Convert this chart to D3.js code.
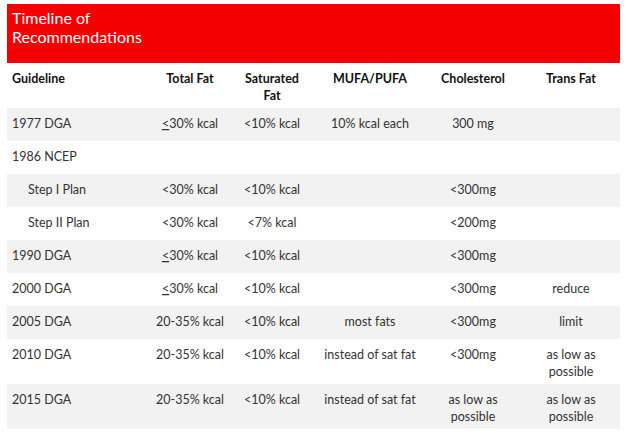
<!DOCTYPE html><html><head><meta charset="utf-8"><script src="https://d3js.org/d3.v7.min.js"></script>
<style>body{margin:0;background:#fff}text{font-family:Lato,"Noto Sans",sans-serif}</style></head><body>
<svg id="c" width="630" height="437"></svg>
<script>
const title=["Timeline of","Recommendations"];
const columns=["Guideline","Total Fat","Saturated Fat","MUFA/PUFA","Cholesterol","Trans Fat"];
const guidelines=["1977 DGA","1986 NCEP","Step I Plan","Step II Plan","1990 DGA","2000 DGA","2005 DGA","2010 DGA","2015 DGA"];
const indent=[0,0,1,1,0,0,0,0,0];
const totalFat=["≤30% kcal","","<30% kcal","<30% kcal","≤30% kcal","≤30% kcal","20-35% kcal","20-35% kcal","20-35% kcal"];
const satFat=["<10% kcal","","<10% kcal","<7% kcal","<10% kcal","<10% kcal","<10% kcal","<10% kcal","<10% kcal"];
const mufa=["10% kcal each","","","","","","most fats","instead of sat fat","instead of sat fat"];
const chol=["300 mg","","<300mg","<200mg","<300mg","<300mg","<300mg","<300mg","as low as|possible"];
const trans=["","","","","","reduce","limit","as low as|possible","as low as|possible"];
const rowH=[1,1,1,1,1,1,1,1.36,1.36];

const svg=d3.select("#c");
const L=7,R=620;
svg.append("rect").attr("x",L).attr("y",4).attr("width",R-L).attr("height",59).attr("fill","#f40000");
svg.selectAll(".tt").data(title).join("text").attr("x",12).attr("y",(d,i)=>24+i*19)
 .attr("fill","#fff").attr("font-size",16).text(d=>d);
const cx=[12,190,272,370,473,571];
// header
columns.forEach((c,i)=>{
  const parts=c==="Saturated Fat"?["Saturated","Fat"]:[c];
  parts.forEach((p,j)=>svg.append("text").attr("x",cx[i]).attr("y",83+j*17)
   .attr("text-anchor",i?"middle":"start").attr("font-weight","bold").attr("font-size",12.5).attr("fill","#111").text(p));
});
const unit=33;
const y0=108;
const tops=[];let acc=y0;
rowH.forEach(h=>{tops.push(acc);acc+=h*unit;});
const y=d3.scaleLinear().domain([0,1]).range([0,unit]);
const cols=[guidelines,totalFat,satFat,mufa,chol,trans];
guidelines.forEach((g,r)=>{
  const top=tops[r],h=y(rowH[r]);
  if(r%2===0) svg.append("rect").attr("x",L).attr("y",top).attr("width",R-L).attr("height",h).attr("fill","#f2f2f2");
  cols.forEach((col,i)=>{
    const v=col[r]; if(!v) return;
    const lines=v.split("|");
    lines.forEach((ln,j)=>{
      const t=svg.append("text").attr("x",i===0?cx[0]+indent[r]*16:cx[i]).attr("y",top+20+j*17)
        .attr("text-anchor",i?"middle":"start").attr("font-size",12.5).attr("fill","#333");
      if(ln[0]==="≤"){
        t.append("tspan").attr("text-decoration","underline").text("<");
        t.append("tspan").text(ln.slice(1));
      } else t.text(ln);
    });
  });
});
</script></body></html>
